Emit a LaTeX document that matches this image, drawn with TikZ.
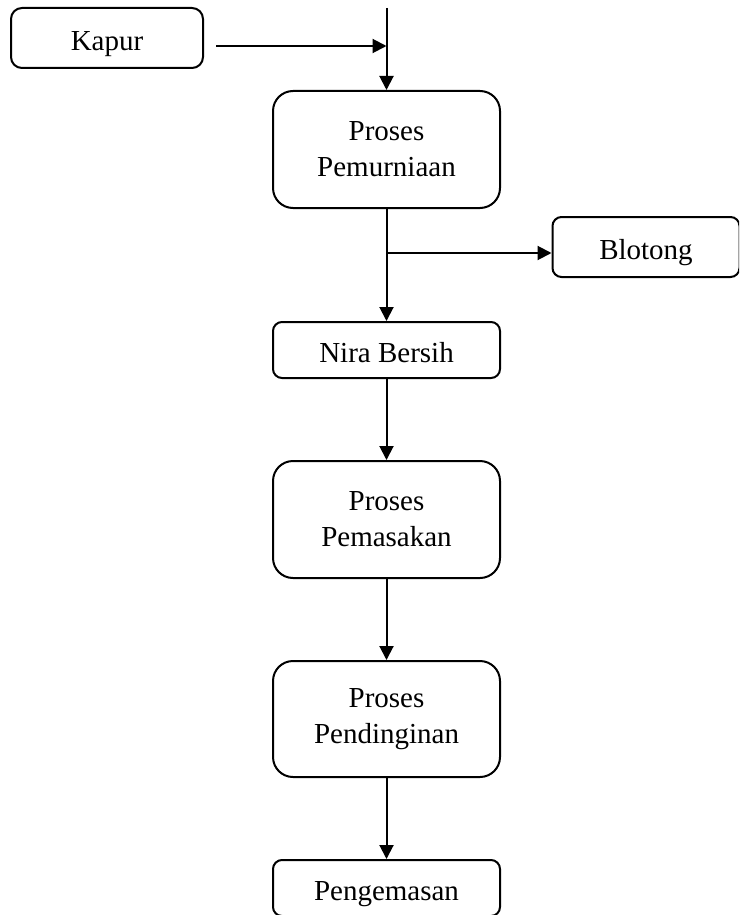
\documentclass[tikz,border=0pt]{standalone}
\usepackage{fontspec}
\setmainfont{Liberation Serif}
\usetikzlibrary{arrows.meta}
\begin{document}
\begin{tikzpicture}[x=1pt,y=-1pt,
  every node/.style={font=\fontsize{29}{36}\selectfont},
  box/.style={draw, line width=2pt, rectangle, inner sep=0pt, align=center, anchor=center},
  onebox/.style={box, rounded corners=9pt, text height=25pt, text depth=0pt},
  twobox/.style={box, rounded corners=20pt},
  flow/.style={line width=2pt, -{Triangle[length=14pt,width=14pt]}}]
\useasboundingbox (0,0) rectangle (739,915);
\clip (0,0) rectangle (739,915);
\node[onebox, rounded corners=11pt, minimum width=192pt, minimum height=60pt] (kapur) at (107,38) {Kapur};
\node[twobox, minimum width=227pt, minimum height=117pt] (murni) at (386.5,149.5) {Proses\\Pemurniaan};
\node[onebox, minimum width=187pt, minimum height=60pt] (blotong) at (646,247) {Blotong};
\node[onebox, minimum width=227pt, minimum height=56pt] (nira) at (386.5,350) {Nira Bersih};
\node[twobox, minimum width=227pt, minimum height=117pt] (masak) at (386.5,519.5) {Proses\\Pemasakan};
\node[twobox, minimum width=227pt, minimum height=116pt] (dingin) at (386.5,719) {Proses\\Pendinginan};
\node[onebox, minimum width=227pt, minimum height=56pt] (kemas) at (386.5,888) {Pengemasan};
\coordinate (top) at (386.5,8);
\coordinate (kin) at (216,46);
\coordinate (kjoin) at (386.5,46);
\coordinate (bsplit) at (386.5,253);
\draw[flow] (top) -- (murni.north);
\draw[flow] (kin) -- (kjoin);
\draw[flow] (murni.south) -- (nira.north);
\draw[flow] (bsplit) -- (bsplit -| blotong.west);
\draw[flow] (nira.south) -- (masak.north);
\draw[flow] (masak.south) -- (dingin.north);
\draw[flow] (dingin.south) -- (kemas.north);
\end{tikzpicture}
\end{document}
